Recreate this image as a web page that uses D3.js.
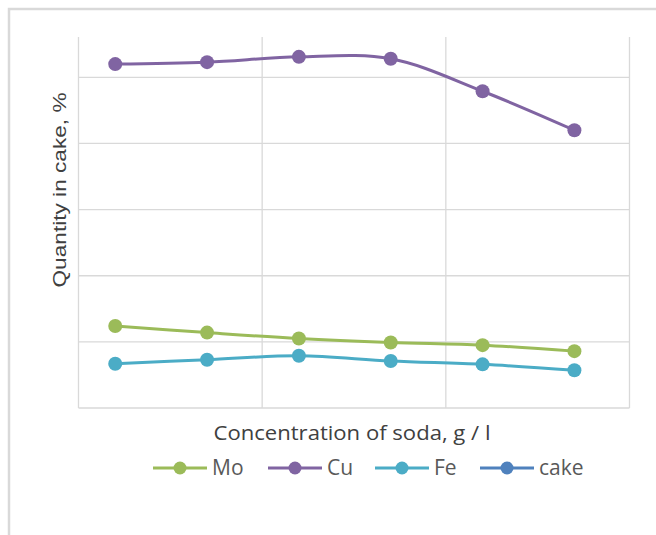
<!DOCTYPE html>
<html><head><meta charset="utf-8">
<script src="https://cdn.jsdelivr.net/npm/d3@7"></script>
<style>body{margin:0;background:#fff}svg{display:block}</style>
</head><body>
<svg id="c" width="656" height="535"></svg>
<script>
const xValues = [10, 35, 60, 85, 110, 135];
const seriesNames = ["Mo", "Cu", "Fe", "cake"];
const moValues = [12.4, 11.4, 10.5, 9.9, 9.5, 8.6];
const cuValues = [52.0, 52.3, 53.1, 52.8, 47.9, 42.0];
const feValues = [6.7, 7.3, 7.9, 7.1, 6.6, 5.7];
const cakeValues = [];
const xTicks = [0, 50, 100, 150];
const yTicks = [0, 10, 20, 30, 40, 50];
const colors = ["#9bbb59", "#8064a2", "#4bacc6", "#4f81bd"];
const xTitle = "Concentration of soda, g / l";
const yTitle = "Quantity in cake, %";

const svg = d3.select("#c");
svg.append("rect").attr("x", 9).attr("y", 9).attr("width", 700).attr("height", 600)
  .attr("fill", "#fff").attr("stroke", "#d9d9d9").attr("stroke-width", 2.5);

const L = 78.5, R = 629.5, T = 37, B = 408;
const x = d3.scaleLinear().domain([0, 150]).range([L, R]);
const y = d3.scaleLinear().domain([0, 56.1]).range([B, T]);

const g = svg.append("g");
// grid
g.selectAll("line.h").data(yTicks).join("line")
  .attr("x1", L).attr("x2", R).attr("y1", d => y(d)).attr("y2", d => y(d))
  .attr("stroke", "#d9d9d9").attr("stroke-width", 1.3);
g.selectAll("line.v").data(xTicks).join("line")
  .attr("y1", T).attr("y2", B).attr("x1", d => x(d)).attr("x2", d => x(d))
  .attr("stroke", "#d9d9d9").attr("stroke-width", 1.3);

const series = [moValues, cuValues, feValues, cakeValues];
const line = d3.line().x(d => x(d[0])).y(d => y(d[1])).curve(d3.curveCatmullRom.alpha(0.5));
series.forEach((vals, i) => {
  const pts = vals.map((v, j) => [xValues[j], v]);
  if (!pts.length) return;
  g.append("path").attr("d", line(pts)).attr("fill", "none")
    .attr("stroke", colors[i]).attr("stroke-width", 3);
  g.selectAll(null).data(pts).join("circle")
    .attr("cx", d => x(d[0])).attr("cy", d => y(d[1])).attr("r", 7)
    .attr("fill", colors[i]);
});

// titles
svg.append("text").attr("x", 352).attr("y", 440).attr("text-anchor", "middle")
  .attr("font-family", "'Liberation Sans Narrow', 'Open Sans', sans-serif")
  .attr("font-size", 20).attr("fill", "#404040").attr("textLength", 277)
  .attr("lengthAdjust", "spacingAndGlyphs").text(xTitle);
svg.append("text").attr("transform", "translate(66,190) rotate(-90)")
  .attr("text-anchor", "middle")
  .attr("font-family", "'Liberation Sans', Arial, sans-serif")
  .attr("font-size", 18).attr("fill", "#404040").attr("textLength", 195)
  .attr("lengthAdjust", "spacingAndGlyphs").text(yTitle);

// legend
const legX = [153, 268, 375, 480];
const leg = svg.append("g");
seriesNames.forEach((n, i) => {
  const lx = legX[i];
  leg.append("line").attr("x1", lx).attr("x2", lx + 54).attr("y1", 468).attr("y2", 468)
    .attr("stroke", colors[i]).attr("stroke-width", 3);
  leg.append("circle").attr("cx", lx + 27).attr("cy", 468).attr("r", 6.5).attr("fill", colors[i]);
  leg.append("text").attr("x", lx + 59).attr("y", 475)
    .attr("font-family", "'Liberation Sans Narrow', 'Open Sans', sans-serif")
    .attr("font-size", 21).attr("fill", "#595959").text(n);
});
</script>
</body></html>
